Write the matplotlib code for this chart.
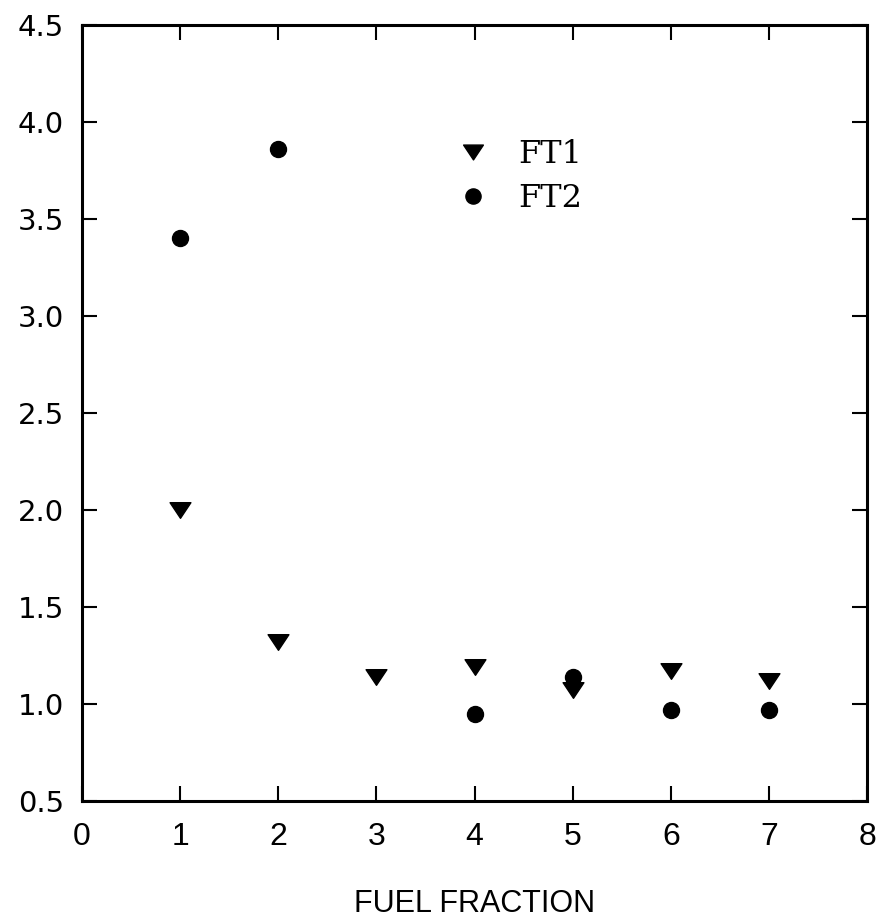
import matplotlib
matplotlib.use("Agg")
import matplotlib.pyplot as plt
from matplotlib.path import Path

# Data
fraction_ft1 = [1, 2, 3, 4, 5, 6, 7]
values_ft1 = [2.00, 1.32, 1.14, 1.19, 1.07, 1.17, 1.12]
fraction_ft2 = [1, 2, 4, 5, 6, 7]
values_ft2 = [3.40, 3.86, 0.95, 1.14, 0.97, 0.97]
x_ticks = [0, 1, 2, 3, 4, 5, 6, 7, 8]
y_ticks = [0.5, 1.0, 1.5, 2.0, 2.5, 3.0, 3.5, 4.0, 4.5]

fig = plt.figure(figsize=(8.76, 9.22), dpi=100)
L, R, T, B = 82, 867, 25, 801
ax = fig.add_axes([L/876, 1-B/922, (R-L)/876, (B-T)/922])

flat_tri = Path([(-1, 0.75), (1, 0.75), (0, -0.75), (-1, 0.75)],
                [Path.MOVETO, Path.LINETO, Path.LINETO, Path.CLOSEPOLY])

ax.plot(fraction_ft1, values_ft1, linestyle="none", marker=flat_tri, color="black",
        markersize=15, label="FT1")
ax.plot(fraction_ft2, values_ft2, linestyle="none", marker="o", color="black",
        markersize=11.5, label="FT2")

ax.set_xlim(0, 8)
ax.set_ylim(0.5, 4.5)
ax.set_xticks(x_ticks)
ax.set_yticks(y_ticks)
ax.set_xticklabels([str(v) for v in x_ticks], fontsize=23, family="Liberation Sans")
ax.set_yticklabels([f"{v:.1f}" for v in y_ticks], fontsize=21, family="DejaVu Sans")
ax.tick_params(direction="in", length=11, width=1.5, top=True, right=True)
ax.tick_params(axis="x", pad=15)
ax.tick_params(axis="y", pad=13)
for s in ax.spines.values():
    s.set_linewidth(2.2)

ax.set_xlabel("FUEL FRACTION", fontsize=22, family="Liberation Sans", labelpad=27)

leg = ax.legend(loc="upper left", bbox_to_anchor=(0.4777, 0.853), frameon=False,
                prop={"family": "DejaVu Serif", "size": 23},
                borderpad=0, borderaxespad=0,
                handletextpad=0.91, labelspacing=0.42, handlelength=1.0,
                markerscale=0.95)

fig.savefig("out.png", dpi=100)
